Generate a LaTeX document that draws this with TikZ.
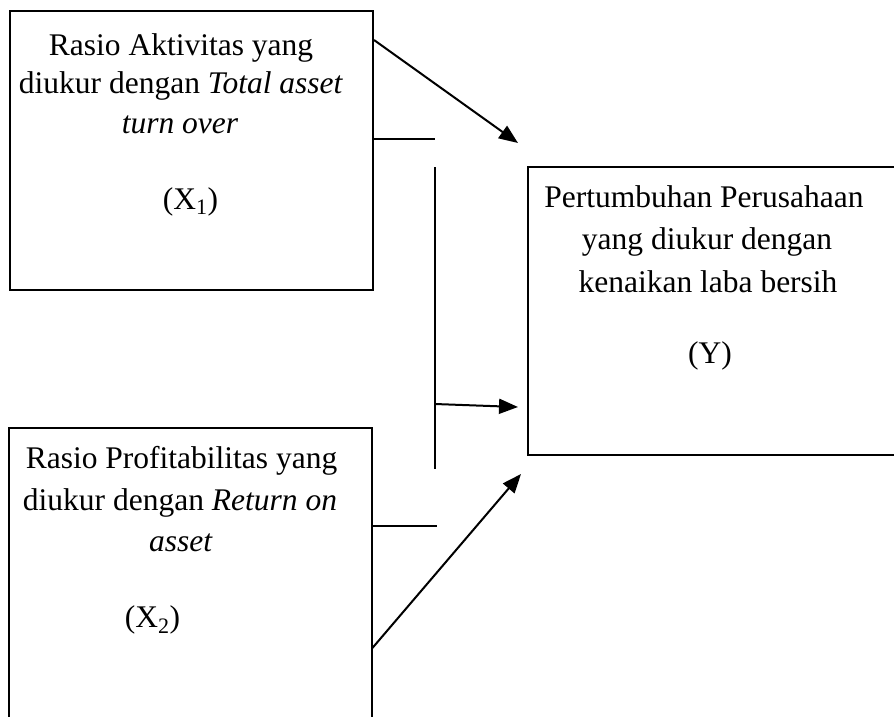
\documentclass[tikz,border=0pt]{standalone}
\usepackage{fontspec}
\setmainfont{Liberation Serif}
\usetikzlibrary{arrows.meta,calc}
\tikzset{
  boxst/.style={draw=black, line width=2pt, inner sep=0pt, anchor=north west},
  openbox/.style={inner sep=0pt, anchor=north west},
  txt/.style={font=\fontsize{31.5}{38}\selectfont, inner sep=0pt, anchor=base},
  conn/.style={draw=black, line width=2pt},
  arr/.style={conn, -{Triangle[length=19pt,width=15pt]}}
}
\begin{document}
\begin{tikzpicture}[x=1pt,y=-1pt]
\path[use as bounding box] (0,0) rectangle (894,716);
\clip (0,0) rectangle (894,716);
% boxes
\node[boxst, minimum width=363pt, minimum height=279pt] (b1) at (9,10) {};
\node[openbox, minimum width=363pt, minimum height=400pt] (b2) at (9,428) {};
\draw[conn] (b2.south west) -- (b2.north west) -- (b2.north east) -- (b2.south east);
\node[openbox, minimum width=500pt, minimum height=288pt] (by) at (528,167) {};
\draw[conn] (by.north east) -- (by.north west) -- (by.south west) -- (by.south east);
% texts box 1
\node[txt] (t11) at (181,55) {Rasio Aktivitas yang};
\node[txt] (t12) at (181,93) {diukur dengan \textit{Total asset}};
\node[txt] (t13) at (180,133) {\textit{turn over}};
\node[txt] (x1) at (190.5,209) {(X\textsubscript{1})};
% texts box 2
\node[txt] (t21) at (181.5,468) {Rasio Profitabilitas yang};
\node[txt] (t22) at (180,510) {diukur dengan \textit{Return on}};
\node[txt] (t23) at (181,551) {\textit{asset}};
\node[txt] (x2) at (152.5,627) {(X\textsubscript{2})};
% texts box Y
\node[txt] (ty1) at (704,207) {Pertumbuhan Perusahaan};
\node[txt] (ty2) at (707,249) {yang diukur dengan};
\node[txt] (ty3) at (708,292) {kenaikan laba bersih};
\node[txt] (yy) at (710,363) {(Y)};
% free ends
\coordinate (tA) at (518,143);
\coordinate (h1) at (435,139);
\coordinate (v1) at (435,167);
\coordinate (v2) at (435,469);
\coordinate (vB) at (435,404);
\coordinate (tB) at (518,407);
\coordinate (h2) at (437,526);
\coordinate (tC) at (521,474);
% connectors
\draw[arr] ([yshift=-30pt]b1.north east) -- (tA);
\draw[conn] (b1.east |- h1) -- (h1);
\draw[conn] (v1) -- (v2);
\draw[arr] (vB) -- (tB);
\draw[conn] (b2.east |- h2) -- (h2);
\draw[arr] ([yshift=-220pt]b2.north east) -- (tC);
\end{tikzpicture}
\end{document}
